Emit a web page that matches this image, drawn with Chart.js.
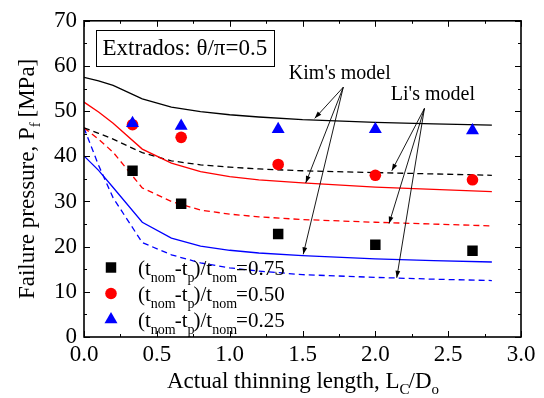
<!DOCTYPE html>
<html><head><meta charset="utf-8">
<script src="https://cdn.jsdelivr.net/npm/chart.js@4.4.1/dist/chart.umd.min.js"></script>
<style>html,body{margin:0;padding:0;background:#fff}canvas{display:block}</style>
</head><body>
<canvas id="c" width="544" height="398"></canvas>
<script>
// ---------- data ----------
const xTicks = [0, 0.5, 1.0, 1.5, 2.0, 2.5, 3.0];
const yTicks = [0, 10, 20, 30, 40, 50, 60, 70];

// experiments (L_C/D_o)
const testLength = [0.333, 0.667, 1.333, 2.0, 2.667];
const test075 = [36.8, 29.5, 22.8, 20.4, 19.1];
const test050 = [47.0, 44.2, 38.2, 35.8, 34.8];
const test025 = [47.3, 46.7, 46.0, 46.0, 45.7];

// model curves
const modelLength = [0, 0.1, 0.2, 0.4, 0.6, 0.8, 1.0, 1.2, 1.5, 2.0, 2.4, 2.8];
const kimBlack = [57.5, 56.7, 55.7, 52.7, 50.9, 49.9, 49.2, 48.7, 48.1, 47.5, 47.2, 46.9];
const kimRed   = [52.0, 49.8, 47.3, 41.6, 38.5, 36.6, 35.5, 34.8, 34.1, 33.2, 32.7, 32.2];
const kimBlue  = [40.1, 36.9, 33.1, 25.4, 21.9, 20.1, 19.2, 18.6, 18.0, 17.3, 16.9, 16.6];
const liBlack  = [46.3, 45.1, 43.8, 40.8, 39.0, 38.1, 37.6, 37.2, 36.8, 36.4, 36.1, 35.8];
const liRed    = [46.3, 43.8, 40.9, 33.0, 30.0, 28.1, 27.2, 26.6, 26.0, 25.4, 25.0, 24.6];
const liBlue   = [46.3, 38.0, 30.8, 20.9, 18.2, 16.4, 15.3, 14.6, 13.8, 13.2, 12.8, 12.5];

const legendLabels = ['0.75', '0.50', '0.25'];

// annotations (in data units)
const kimLabel = {text: "Kim's model", x: 1.756, y: 58.3};
const liLabel = {text: "Li's model", x: 2.395, y: 53.7};
const kimArrowFrom = [1.78, 55.3];
const kimArrowTo = [[1.584, 48.4], [1.522, 34.1], [1.505, 18.3]];
const liArrowFrom = [2.337, 50.6];
const liArrowTo = [[2.113, 36.8], [2.094, 25.1], [2.147, 13.1]];
const boxText = 'Extrados: \u03B8/\u03C0=0.5';

// ---------- helpers ----------
const FONT = "'Liberation Serif', 'Times New Roman', serif";
Chart.defaults.font.family = FONT;
const pts = (xs, ys) => xs.map((x, i) => ({x, y: ys[i]}));

function richWidth(ctx, parts, size, subSize) {
  let w = 0;
  for (const p of parts) {
    ctx.font = (p.sub ? subSize : size) + 'px ' + FONT;
    w += ctx.measureText(p.t).width + (p.sub ? -1 : 0);
  }
  return w;
}
function drawRich(ctx, parts, x, y, size, subSize, subDrop) {
  for (const p of parts) {
    ctx.font = (p.sub ? subSize : size) + 'px ' + FONT;
    ctx.fillText(p.t, x, p.sub ? y + subDrop : y);
    x += ctx.measureText(p.t).width + (p.sub ? -1 : 0);
  }
  return x;
}

const scatterStyle = {showLine: false, borderWidth: 0, pointBorderWidth: 0};
const lineStyle = {showLine: true, borderWidth: 1.3, pointRadius: 0, pointHoverRadius: 0, tension: 0, fill: false};
const datasets = [
  {label: 't025', data: pts(testLength, test025), pointStyle: 'triangle', pointRadius: 7.5, backgroundColor: '#0000ff', borderColor: '#0000ff', ...scatterStyle},
  {label: 't050', data: pts(testLength, test050), pointStyle: 'circle', pointRadius: 5.8, backgroundColor: '#ff0000', borderColor: '#ff0000', ...scatterStyle},
  {label: 't075', data: pts(testLength, test075), pointStyle: 'rect', pointRadius: 7.4, backgroundColor: '#000000', borderColor: '#000000', ...scatterStyle},
  {label: 'kimBlack', data: pts(modelLength, kimBlack), borderColor: '#000000', ...lineStyle},
  {label: 'kimRed', data: pts(modelLength, kimRed), borderColor: '#ff0000', ...lineStyle},
  {label: 'kimBlue', data: pts(modelLength, kimBlue), borderColor: '#0000ff', ...lineStyle},
  {label: 'liBlack', data: pts(modelLength, liBlack), borderColor: '#000000', borderDash: [6, 4], ...lineStyle},
  {label: 'liRed', data: pts(modelLength, liRed), borderColor: '#ff0000', borderDash: [6, 4], ...lineStyle},
  {label: 'liBlue', data: pts(modelLength, liBlue), borderColor: '#0000ff', borderDash: [6, 4], ...lineStyle},
];

const decor = {
  id: 'decor',
  beforeDraw(chart) {
    const ctx = chart.ctx;
    ctx.save();
    ctx.fillStyle = '#fff';
    ctx.fillRect(0, 0, chart.width, chart.height);
    ctx.restore();
  },
  afterDraw(chart) {
    const {ctx, chartArea: a, scales: {x, y}} = chart;
    ctx.save();
    // inward ticks, all four sides
    ctx.strokeStyle = '#000';
    ctx.lineWidth = 1;
    const line = (x1, y1, x2, y2) => { ctx.beginPath(); ctx.moveTo(x1, y1); ctx.lineTo(x2, y2); ctx.stroke(); };
    for (let i = 0; i < xTicks.length; i++) {
      const v = xTicks[i];
      const px = Math.round(x.getPixelForValue(v)) + 0.5;
      line(px, a.bottom, px, a.bottom - 6); line(px, a.top, px, a.top + 6);
      if (i < xTicks.length - 1) {
        const m = Math.round(x.getPixelForValue((v + xTicks[i + 1]) / 2)) + 0.5;
        line(m, a.bottom, m, a.bottom - 3); line(m, a.top, m, a.top + 3);
      }
    }
    for (let i = 0; i < yTicks.length; i++) {
      const v = yTicks[i];
      const py = Math.round(y.getPixelForValue(v)) + 0.5;
      line(a.left, py, a.left + 6, py); line(a.right, py, a.right - 6, py);
      if (i < yTicks.length - 1) {
        const m = Math.round(y.getPixelForValue((v + yTicks[i + 1]) / 2)) + 0.5;
        line(a.left, m, a.left + 3, m); line(a.right, m, a.right - 3, m);
      }
    }
    // frame
    ctx.lineWidth = 1.6;
    ctx.strokeRect(a.left, a.top, a.right - a.left, a.bottom - a.top);

    // box annotation
    const bx1 = x.getPixelForValue(0.081), bx2 = x.getPixelForValue(1.304);
    const by1 = y.getPixelForValue(68.0), by2 = y.getPixelForValue(60.0);
    ctx.lineWidth = 1;
    ctx.strokeRect(Math.round(bx1) + 0.5, Math.round(by1) + 0.5, Math.round(bx2 - bx1), Math.round(by2 - by1));
    ctx.fillStyle = '#000';
    ctx.font = '23px ' + FONT;
    ctx.textAlign = 'center';
    ctx.textBaseline = 'middle';
    ctx.fillText(boxText, (bx1 + bx2) / 2, (by1 + by2) / 2 + 1);

    // model labels
    ctx.font = '20px ' + FONT;
    ctx.fillText(kimLabel.text, x.getPixelForValue(kimLabel.x), y.getPixelForValue(kimLabel.y));
    ctx.fillText(liLabel.text, x.getPixelForValue(liLabel.x), y.getPixelForValue(liLabel.y));

    // arrows
    const arrow = (from, to) => {
      const x1 = x.getPixelForValue(from[0]), y1 = y.getPixelForValue(from[1]);
      const x2 = x.getPixelForValue(to[0]), y2 = y.getPixelForValue(to[1]);
      ctx.lineWidth = 0.9;
      line(x1, y1, x2, y2);
      const ang = Math.atan2(y2 - y1, x2 - x1), L = 7, W = 2.4;
      ctx.beginPath();
      ctx.moveTo(x2, y2);
      ctx.lineTo(x2 - L * Math.cos(ang) + W * Math.sin(ang), y2 - L * Math.sin(ang) - W * Math.cos(ang));
      ctx.lineTo(x2 - L * Math.cos(ang) - W * Math.sin(ang), y2 - L * Math.sin(ang) + W * Math.cos(ang));
      ctx.closePath();
      ctx.fill();
    };
    kimArrowTo.forEach(t => arrow(kimArrowFrom, t));
    liArrowTo.forEach(t => arrow(liArrowFrom, t));

    // legend
    const order = [2, 1, 0];
    ctx.textAlign = 'left';
    ctx.textBaseline = 'alphabetic';
    order.forEach((di, row) => {
      const ds = chart.data.datasets[di];
      const cy = a.bottom - 69.5 + row * 26;
      const mx = a.left + 27;
      ctx.fillStyle = ds.backgroundColor;
      ctx.strokeStyle = ds.backgroundColor;
      Chart.helpers.drawPoint(ctx, {pointStyle: ds.pointStyle, radius: ds.pointRadius, rotation: 0, borderWidth: 0}, mx, cy);
      ctx.fillStyle = '#000';
      const parts = [{t: '(t'}, {t: 'nom', sub: true}, {t: '-t'}, {t: 'p', sub: true}, {t: ')/t'}, {t: 'nom', sub: true}, {t: '=' + legendLabels[row]}];
      drawRich(ctx, parts, a.left + 54, cy + 7, 21, 14, 7);
    });

    // axis titles
    ctx.fillStyle = '#000';
    const xt = [{t: 'Actual thinning length, L'}, {t: 'C', sub: true}, {t: '/D'}, {t: 'o', sub: true}];
    const xw = richWidth(ctx, xt, 23, 15);
    drawRich(ctx, xt, (a.left + a.right) / 2 - xw / 2, 388, 23, 15, 6);

    const yt = [{t: 'Failure pressure, P'}, {t: 'f', sub: true}, {t: ' [MPa]'}];
    const yw = richWidth(ctx, yt, 23, 15);
    ctx.translate(34, (a.top + a.bottom) / 2);
    ctx.rotate(-Math.PI / 2);
    drawRich(ctx, yt, -yw / 2, 0, 23, 15, 6);
    ctx.restore();
  }
};

new Chart(document.getElementById('c'), {
  type: 'scatter',
  data: {datasets},
  options: {
    responsive: false,
    animation: false,
    devicePixelRatio: 1,
    layout: {padding: {top: 16, right: 23, left: 0, bottom: 0}},
    plugins: {legend: {display: false}, tooltip: {enabled: false}},
    scales: {
      x: {
        type: 'linear', min: 0, max: 3,
        afterBuildTicks: s => { s.ticks = xTicks.map(v => ({value: v})); },
        afterFit: s => { s.height = 61; },
        grid: {display: false, drawTicks: false},
        border: {display: false},
        ticks: {padding: 4, color: '#000', font: {family: FONT, size: 23}, callback: v => v.toFixed(1), maxRotation: 0}
      },
      y: {
        type: 'linear', min: 0, max: 70,
        afterBuildTicks: s => { s.ticks = yTicks.map(v => ({value: v})); },
        afterFit: s => { s.width = 84; },
        grid: {display: false, drawTicks: false},
        border: {display: false},
        ticks: {padding: 7, color: '#000', font: {family: FONT, size: 23}, callback: v => String(v)}
      }
    }
  },
  plugins: [decor]
});
</script>
</body></html>
